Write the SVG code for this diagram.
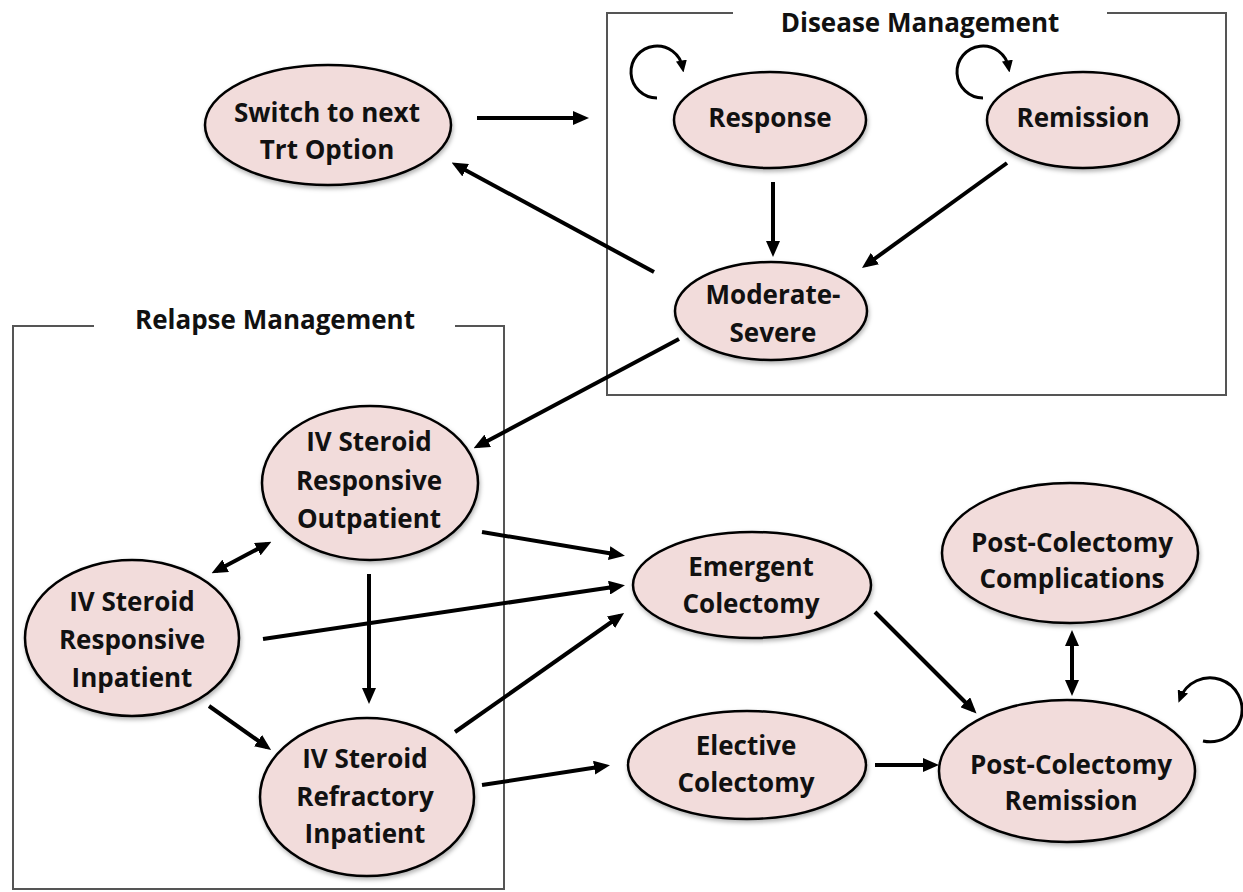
<svg xmlns="http://www.w3.org/2000/svg" width="1243" height="892" viewBox="0 0 1243 892">
<style>
  .node ellipse { fill: #f2dcdb; stroke: #000; stroke-width: 2.5; filter: url(#sh); }
  .node text, .title { font-family: "Open Sans", "Liberation Sans", sans-serif; font-weight: bold; font-size: 26px; fill: #111; text-anchor: middle; }
  .frame { fill: none; stroke: #555; stroke-width: 2; }
  .conn line, .conn path { fill: none; stroke: #000; stroke-width: 4; }
  .conn .loop { stroke-width: 3; }
  .uni { marker-end: url(#ah); }
  .bi { marker-end: url(#ah); marker-start: url(#ah); }
</style>
<defs>
  <marker id="ah" markerUnits="userSpaceOnUse" markerWidth="16" markerHeight="14" refX="11" refY="7" orient="auto-start-reverse">
    <path d="M0,0 L16,7 L0,14 Z" fill="#000"/>
  </marker>
  <marker id="ahs" markerUnits="userSpaceOnUse" markerWidth="12" markerHeight="11" refX="7" refY="5.5" orient="auto">
    <path d="M0,0 L12,5.5 L0,11 Z" fill="#000"/>
  </marker>
  <filter id="sh" x="-10%" y="-10%" width="125%" height="130%">
    <feDropShadow dx="1" dy="2.5" stdDeviation="2" flood-color="#000" flood-opacity="0.3"/>
  </filter>
</defs>
<rect width="1243" height="892" fill="#fff"/>

<g id="frames">
  <path class="frame" d="M733,13 H607 V395 H1226 V13 H1107"/>
  <text class="title" x="920" y="32">Disease Management</text>
  <path class="frame" d="M94,326 H13 V889 H504 V326 H455"/>
  <text class="title" x="275" y="329">Relapse Management</text>
</g>

<g id="connectors" class="conn">
  <line class="uni" x1="477" y1="118" x2="584" y2="118"/>
  <line class="uni" x1="654" y1="272" x2="456" y2="165"/>
  <line class="uni" x1="773" y1="182" x2="773" y2="252"/>
  <line class="uni" x1="1007" y1="163" x2="866" y2="265"/>
  <line class="uni" x1="679" y1="339" x2="478" y2="446"/>
  <line class="bi" x1="216" y1="571" x2="267" y2="544"/>
  <line class="uni" x1="369" y1="574" x2="369" y2="699"/>
  <line class="uni" x1="263" y1="639" x2="620" y2="586"/>
  <line class="uni" x1="482" y1="532" x2="620" y2="555"/>
  <line class="uni" x1="209" y1="706" x2="267" y2="747"/>
  <line class="uni" x1="455" y1="732" x2="620" y2="616"/>
  <line class="uni" x1="482" y1="785" x2="605" y2="766"/>
  <line class="uni" x1="875" y1="612" x2="973" y2="710"/>
  <line class="uni" x1="875" y1="765" x2="934" y2="765"/>
  <line class="bi" x1="1072" y1="635" x2="1072" y2="691"/>
  <path class="loop" marker-end="url(#ahs)" d="M657,98 A26,26 0 1 1 682.6,67.5"/>
  <path class="loop" marker-end="url(#ahs)" d="M983,98 A26,26 0 1 1 1008.6,67.5"/>
  <path class="loop" marker-end="url(#ahs)" d="M1203,741 A32,32 0 1 0 1180.3,698"/>
</g>

<g id="switch" class="node">
  <ellipse cx="328" cy="125" rx="123" ry="60"/>
  <text x="327" y="122">Switch to next</text>
  <text x="327" y="159">Trt Option</text>
</g>
<g id="response" class="node">
  <ellipse cx="770" cy="120" rx="96" ry="48"/>
  <text x="770" y="127">Response</text>
</g>
<g id="remission" class="node">
  <ellipse cx="1083" cy="120" rx="96" ry="48"/>
  <text x="1083" y="127">Remission</text>
</g>
<g id="moderate-severe" class="node">
  <ellipse cx="771" cy="311" rx="96" ry="49"/>
  <text x="773" y="304">Moderate-</text>
  <text x="773" y="342">Severe</text>
</g>
<g id="outpatient" class="node">
  <ellipse cx="370" cy="483" rx="108" ry="77"/>
  <text x="369" y="451">IV Steroid</text>
  <text x="369" y="490">Responsive</text>
  <text x="369" y="528">Outpatient</text>
</g>
<g id="inpatient" class="node">
  <ellipse cx="132" cy="638" rx="107" ry="78"/>
  <text x="132" y="611">IV Steroid</text>
  <text x="132" y="649">Responsive</text>
  <text x="132" y="687">Inpatient</text>
</g>
<g id="refractory" class="node">
  <ellipse cx="367" cy="797" rx="107" ry="79"/>
  <text x="365" y="768">IV Steroid</text>
  <text x="365" y="806">Refractory</text>
  <text x="365" y="843">Inpatient</text>
</g>
<g id="emergent" class="node">
  <ellipse cx="752" cy="585" rx="119" ry="53"/>
  <text x="751" y="576">Emergent</text>
  <text x="751" y="613">Colectomy</text>
</g>
<g id="elective" class="node">
  <ellipse cx="747" cy="765" rx="119" ry="54"/>
  <text x="746" y="755">Elective</text>
  <text x="746" y="792">Colectomy</text>
</g>
<g id="complications" class="node">
  <ellipse cx="1070" cy="553" rx="128" ry="70"/>
  <text x="1072" y="552">Post-Colectomy</text>
  <text x="1072" y="588">Complications</text>
</g>
<g id="pc-remission" class="node">
  <ellipse cx="1067" cy="771" rx="128" ry="71"/>
  <text x="1071" y="774">Post-Colectomy</text>
  <text x="1071" y="810">Remission</text>
</g>
</svg>
